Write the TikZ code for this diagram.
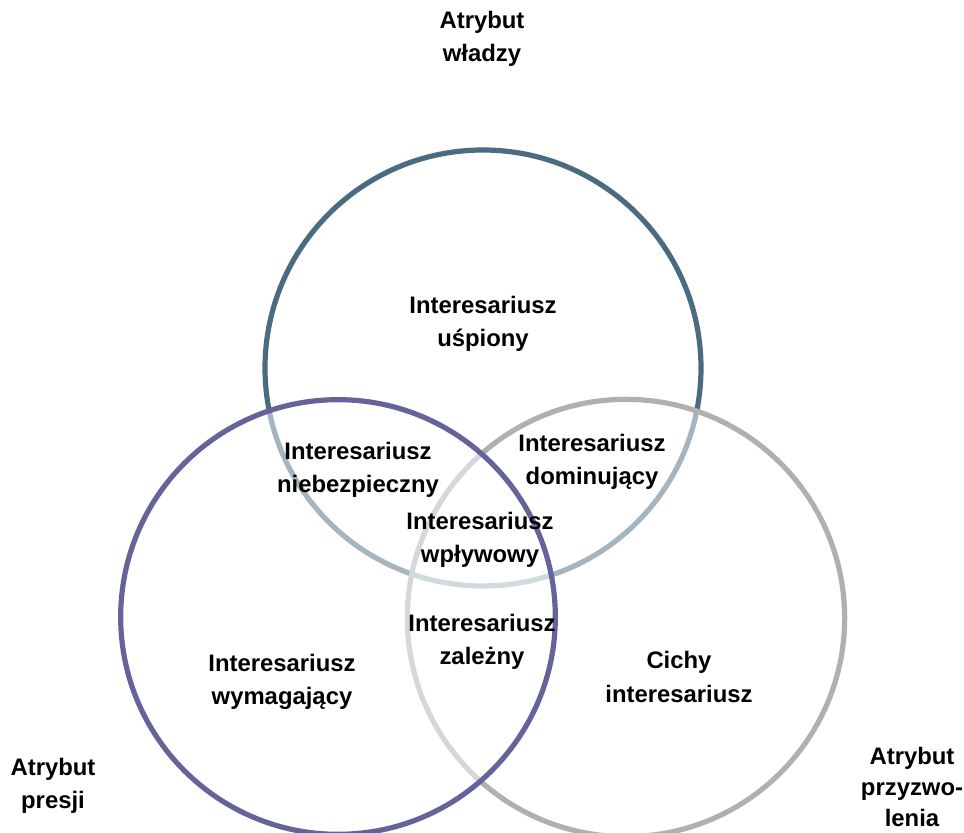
\documentclass[tikz,border=0pt]{standalone}
\usepackage{fontspec}
\setmainfont{Liberation Sans}
\begin{document}
\begin{tikzpicture}[x=0.75pt,y=0.75pt,
  ring/.style={line width=3.9pt, fill=white, fill opacity=0.5},
  lbl/.style={align=center, inner sep=0pt, font=\bfseries\fontsize{17.9}{25}\selectfont},
  lblwide/.style={lbl, font=\bfseries\fontsize{17.9}{23.5}\selectfont}]
\definecolor{power}{RGB}{74,107,128}
\definecolor{urgency}{RGB}{100,99,154}
\definecolor{legit}{RGB}{176,176,176}
\useasboundingbox (0,0) rectangle (964,832);
\clip (0,0) rectangle (964,832);
% three attribute circles (image y measured downward, hence 832 - y)
\draw[ring, draw=power]   (483,832-368) circle [radius=163.5pt];
\draw[ring, draw=legit]   (626,832-618) circle [radius=164pt];
\draw[ring, draw=urgency] (338,832-617) circle [radius=163pt];
% attribute captions
\node[lbl] (cpower) at (482,832-39) {Atrybut\\władzy};
\node[lbl] (curg) at (53,832-786) {Atrybut\\presji};
\node[lblwide] (cleg) at (912,832-787) {Atrybut\\przyzwo-\\lenia};
% region labels
\node[lbl] (dormant) at (483,832-324) {Interesariusz\\uśpiony};
\node[lbl] (danger) at (358,832-470) {Interesariusz\\niebezpieczny};
\node[lbl] (domin) at (592,832-462) {Interesariusz\\dominujący};
\node[lbl] (defin) at (480,832-540) {Interesariusz\\wpływowy};
\node[lbl] (depend) at (482,832-642) {Interesariusz\\zależny};
\node[lbl] (demand) at (282,832-682) {Interesariusz\\wymagający};
\node[lbl] (discr) at (679,832-677) {Cichy\\interesariusz};
\end{tikzpicture}
\end{document}
